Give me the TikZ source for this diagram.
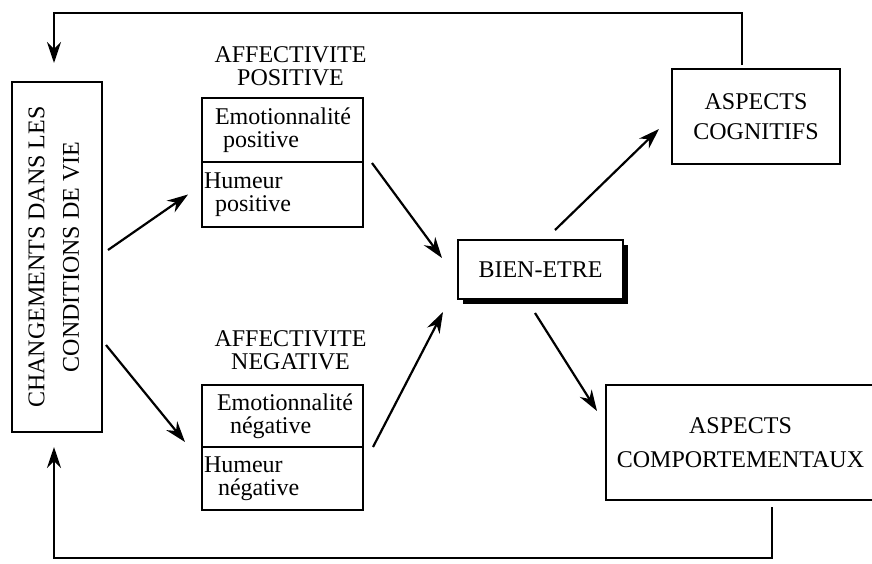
\documentclass[tikz,border=0pt]{standalone}
\usepackage{fontspec}
\setmainfont{Liberation Serif}
\usetikzlibrary{arrows.meta,positioning,shadows}
\newcommand{\diagfont}{\fontsize{24}{22.5}\selectfont}

\begin{document}
\begin{tikzpicture}[
  x=1pt, y=-1pt,
  box/.style={draw, line width=2.2pt, outer sep=0pt, inner sep=3pt, align=center, font=\diagfont},
  cell/.style={box, minimum width=161pt, minimum height=63pt, text width=157pt, inner xsep=2pt, align=left},
  title/.style={inner sep=0pt, align=center, font=\diagfont},
  arr/.style={-{Stealth[length=21pt, width=14pt]}, line width=2.2pt}
]
\useasboundingbox (0,0) rectangle (872,563);

\node[box, minimum width=90pt, minimum height=350pt] (change) at (57,257)
  {\rotatebox{90}{\begin{tabular}{@{}c@{}}CHANGEMENTS DANS LES\\[12pt]CONDITIONS DE VIE\end{tabular}}};

\node[cell, minimum height=64pt] (posemo) at (282.5,130) {\hspace*{11pt}Emotionnalité\\\hspace*{19pt}positive};
\node[cell, minimum height=65pt, below=0pt of posemo] (poshum) {Humeur\\\hspace*{11pt}positive};
\node[title, above=12pt of posemo, xshift=8pt] (postitle) {AFFECTIVITE\\POSITIVE};

\node[cell, minimum height=62pt] (negemo) at (282.5,416) {\hspace*{13pt}Emotionnalité\\\hspace*{26pt}négative};
\node[cell, below=0pt of negemo] (neghum) {Humeur\\\hspace*{14pt}négative};
\node[title, above=15pt of negemo, xshift=8pt] (negtitle) {AFFECTIVITE\\NEGATIVE};

\node[box, fill=white, minimum width=165pt, minimum height=59pt,
  drop shadow={shadow xshift=4.5pt, shadow yshift=-4.5pt, fill=black, opacity=1}] (bien) at (540.5,269.5) {BIEN-ETRE};
\node[box, minimum width=168pt, minimum height=95pt] (cog) at (756,116.5) {ASPECTS\\[8pt]COGNITIFS};
\node[box, minimum width=269pt, minimum height=115pt] (comp) at (740.5,442.5) {ASPECTS\\[12pt]COMPORTEMENTAUX};

\draw[arr] ([shift={(6,-7)}]change.east) -- ([shift={(-14,0)}]poshum.west);
\draw[arr] ([shift={(4,88)}]change.east) -- ([shift={(-17,26)}]negemo.west);
\draw[arr] ([shift={(9,1)}]poshum.north east) -- ([shift={(-16,-11.5)}]bien.west);
\draw[arr] ([shift={(10,0)}]negemo.south east) -- ([shift={(-15,13)}]bien.south west);
\draw[arr] ([shift={(14.5,-10)}]bien.north) -- ([shift={(-13,12.5)}]cog.west);
\draw[arr] ([shift={(-5.5,14)}]bien.south) -- ([shift={(-9,26)}]comp.north west);

\draw[arr] ([shift={(-14,-4)}]cog.north) -- ++(0,-52) -| ([shift={(-3,-19)}]change.north);
\draw[arr] ([shift={(31.5,7)}]comp.south) -- ++(0,51) -| ([shift={(-3,15)}]change.south);
\end{tikzpicture}
\end{document}
